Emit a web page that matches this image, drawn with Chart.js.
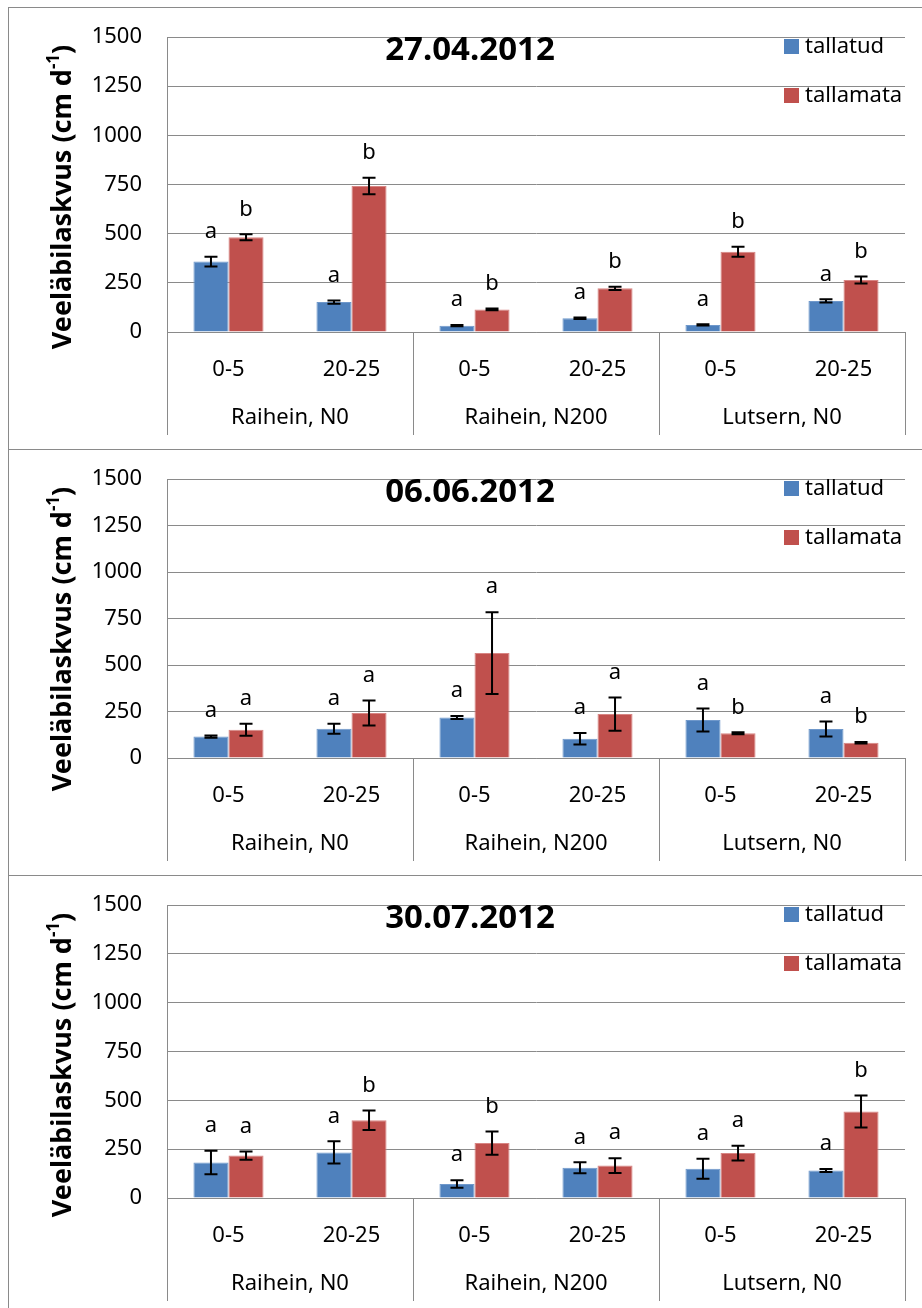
<!DOCTYPE html>
<html>
<head>
<meta charset="utf-8">
<script src="https://cdn.jsdelivr.net/npm/chart.js@4.4.1/dist/chart.umd.min.js"></script>
<style>
  body { margin: 0; background: #fff; }
  #wrap { position: relative; width: 922px; height: 1308px; overflow: hidden; }
  .box { position: absolute; left: 8px; width: 930px; border-left: 1px solid #8a8a8a; border-top: 1px solid #8a8a8a; }
  canvas { position: absolute; left: 9px; }
</style>
</head>
<body>
<div id="wrap">
  <div class="box" style="top:7px;height:442px"></div>
  <div class="box" style="top:449px;height:426px"></div>
  <div class="box" style="top:875px;height:440px"></div>
  <canvas id="c1" width="913" height="441" style="top:8px"></canvas>
  <canvas id="c2" width="913" height="425" style="top:450px"></canvas>
  <canvas id="c3" width="913" height="432" style="top:876px"></canvas>
</div>
<script>
// kategooriad
const groups = ['Raihein, N0', 'Raihein, N200', 'Lutsern, N0'];
const depths = ['0-5', '20-25', '0-5', '20-25', '0-5', '20-25'];
const seriesNames = ['tallatud', 'tallamata'];

// 27.04.2012
const aprTallatud = [358, 152, 32, 70, 36, 158];
const aprTallatudErr = [25, 8, 3, 4, 3, 8];
const aprTallamata = [482, 742, 115, 222, 408, 264];
const aprTallamataErr = [15, 42, 5, 8, 25, 18];
const aprLettersA = ['a', 'a', 'a', 'a', 'a', 'a'];
const aprLettersB = ['b', 'b', 'b', 'b', 'b', 'b'];

// 06.06.2012
const junTallatud = [115, 157, 218, 104, 204, 156];
const junTallatudErr = [6, 27, 8, 31, 62, 40];
const junTallamata = [152, 242, 564, 236, 133, 82];
const junTallamataErr = [32, 67, 220, 89, 5, 4];
const junLettersA = ['a', 'a', 'a', 'a', 'a', 'a'];
const junLettersB = ['a', 'a', 'a', 'a', 'b', 'b'];

// 30.07.2012
const julTallatud = [182, 233, 72, 155, 150, 141];
const julTallatudErr = [60, 57, 19, 28, 51, 8];
const julTallamata = [217, 398, 281, 166, 230, 443];
const julTallamataErr = [21, 50, 60, 38, 38, 82];
const julLettersA = ['a', 'a', 'a', 'a', 'a', 'a'];
const julLettersB = ['a', 'b', 'b', 'a', 'a', 'b'];

const yMin = 0, yMax = 1500, yStep = 250;

const BLUE = '#4F81BD';
const RED = '#C0504D';
const GRID = '#8a8a8a';
const FONT = '"Noto Sans", sans-serif';

const decorPlugin = {
  id: 'decor',
  afterDraw(chart) {
    const ctx = chart.ctx;
    const o = chart.options.plugins.decor;
    const area = chart.chartArea;
    const xs = chart.scales.x;
    const ys = chart.scales.y;
    ctx.save();

    // veapiirid ja tähed
    o.errors.forEach((errs, d) => {
      const meta = chart.getDatasetMeta(d);
      const vals = chart.data.datasets[d].data;
      meta.data.forEach((bar, i) => {
        const top = ys.getPixelForValue(vals[i] + errs[i]);
        const bot = ys.getPixelForValue(vals[i] - errs[i]);
        ctx.strokeStyle = '#000';
        ctx.lineWidth = 2;
        ctx.beginPath();
        ctx.moveTo(bar.x, top); ctx.lineTo(bar.x, bot);
        ctx.moveTo(bar.x - 6.5, top); ctx.lineTo(bar.x + 6.5, top);
        ctx.moveTo(bar.x - 6.5, bot); ctx.lineTo(bar.x + 6.5, bot);
        ctx.stroke();
        ctx.fillStyle = '#000';
        ctx.font = '22px ' + FONT;
        ctx.textAlign = 'center';
        ctx.textBaseline = 'middle';
        ctx.fillText(o.letters[d][i], bar.x, top - 25);
      });
    });

    // pealkiri
    ctx.fillStyle = '#000';
    ctx.font = 'bold 33px ' + FONT;
    ctx.textAlign = 'center';
    ctx.textBaseline = 'middle';
    ctx.fillText(o.title, 461, 43);

    // legend
    const colors = [BLUE, RED];
    ctx.font = '22px ' + FONT;
    ctx.textAlign = 'left';
    seriesNames.forEach((name, k) => {
      const y = 31 + k * 49;
      ctx.fillStyle = colors[k];
      ctx.fillRect(775, y, 15, 15);
      ctx.fillStyle = '#000';
      ctx.fillText(name, 796, y + 8);
    });

    // y-telje pealkiri
    ctx.save();
    ctx.translate(54, 189);
    ctx.rotate(-Math.PI / 2);
    ctx.font = 'bold 27px ' + FONT;
    const main = 'Veeläbilaskvus (cm d';
    const wMain = ctx.measureText(main).width;
    const wClose = ctx.measureText(')').width;
    ctx.font = 'bold 17px ' + FONT;
    const wSup = ctx.measureText('-1').width;
    let x0 = -(wMain + wSup + wClose) / 2;
    ctx.textAlign = 'left';
    ctx.textBaseline = 'middle';
    ctx.font = 'bold 27px ' + FONT;
    ctx.fillText(main, x0, 0);
    ctx.font = 'bold 17px ' + FONT;
    ctx.fillText('-1', x0 + wMain, -9);
    ctx.font = 'bold 27px ' + FONT;
    ctx.fillText(')', x0 + wMain + wSup, 0);
    ctx.restore();

    // rühmade sildid ja eraldusjooned
    const axisY = area.bottom;
    const bounds = [area.left];
    for (let g = 1; g < groups.length; g++) {
      bounds.push((xs.getPixelForValue(g * 2 - 1) + xs.getPixelForValue(g * 2)) / 2);
    }
    bounds.push(area.right);
    ctx.strokeStyle = GRID;
    ctx.lineWidth = 1;
    ctx.beginPath();
    bounds.forEach(b => {
      const bx = Math.round(b) + 0.5;
      ctx.moveTo(bx, axisY); ctx.lineTo(bx, axisY + 103);
    });
    ctx.stroke();
    ctx.fillStyle = '#000';
    ctx.font = '22px ' + FONT;
    ctx.textAlign = 'center';
    ctx.textBaseline = 'middle';
    groups.forEach((g, k) => {
      ctx.fillText(g, (bounds[k] + bounds[k + 1]) / 2, axisY + 86);
    });
    ctx.restore();
  }
};

function makePanel(id, title, blue, blueErr, red, redErr, lettersA, lettersB, xHeight) {
  new Chart(document.getElementById(id), {
    type: 'bar',
    data: {
      labels: depths,
      datasets: [
        { label: seriesNames[0], data: blue, backgroundColor: BLUE, borderColor: '#6f98cb', borderWidth: 1 },
        { label: seriesNames[1], data: red, backgroundColor: RED, borderColor: '#d88583', borderWidth: 1 }
      ]
    },
    options: {
      responsive: false,
      animation: false,
      devicePixelRatio: 1,
      layout: { padding: { top: 29, right: 17, left: 0, bottom: 0 } },
      datasets: { bar: { barPercentage: 1, categoryPercentage: 0.57 } },
      plugins: {
        legend: { display: false },
        tooltip: { enabled: false },
        decor: {
          title: title,
          errors: [blueErr, redErr],
          letters: [lettersA, lettersB]
        }
      },
      scales: {
        x: {
          grid: { display: false, drawTicks: false },
          border: { display: true, color: GRID, width: 1 },
          ticks: { font: { family: FONT, size: 22 }, color: '#000', padding: 25 },
          afterFit(scale) { scale.height = xHeight; }
        },
        y: {
          min: yMin,
          max: yMax,
          grid: { color: GRID, lineWidth: 1, drawTicks: false },
          border: { display: true, color: GRID, width: 1 },
          ticks: {
            stepSize: yStep,
            font: { family: FONT, size: 22 },
            color: '#000',
            padding: 25,
            callback: v => String(v)
          },
          afterFit(scale) {
            scale.width = 158;
            scale.paddingTop = 0;
            scale.paddingBottom = 0;
          }
        }
      }
    },
    plugins: [decorPlugin]
  });
}

makePanel('c1', '27.04.2012', aprTallatud, aprTallatudErr, aprTallamata, aprTallamataErr, aprLettersA, aprLettersB, 117);
makePanel('c2', '06.06.2012', junTallatud, junTallatudErr, junTallamata, junTallamataErr, junLettersA, junLettersB, 117);
makePanel('c3', '30.07.2012', julTallatud, julTallatudErr, julTallamata, julTallamataErr, julLettersA, julLettersB, 110);
</script>
</body>
</html>
